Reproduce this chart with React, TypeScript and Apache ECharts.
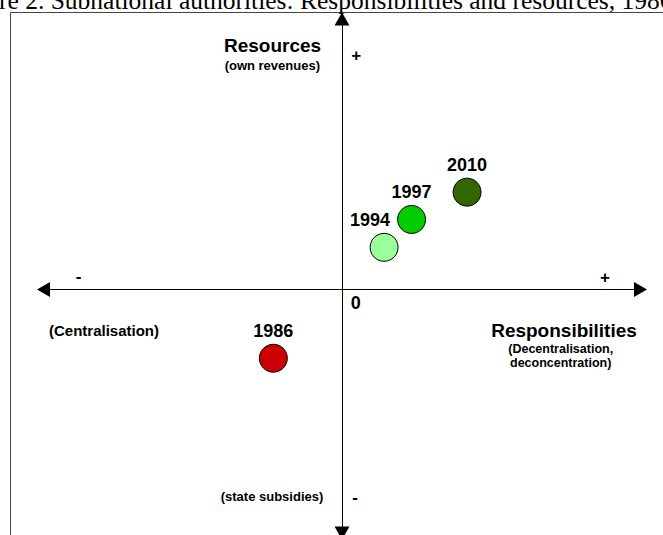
import React, { useEffect, useRef } from "react";
import * as echarts from "echarts";

const years = ["1986", "1994", "1997", "2010"];
const responsibilities = [-2.3, 1.41, 2.33, 4.19];
const resources = [-2.54, 1.56, 2.59, 3.6];
const pointColors = ["#CC0000", "#99FF99", "#00CC00", "#336600"];

const titleText = "re 2. Subnational authorities: Responsibilities and resources, 1986";

const SANS = "'Liberation Sans', Arial, Helvetica, sans-serif";

export default function App() {
  const ref = useRef<HTMLDivElement>(null);
  useEffect(() => {
    if (!ref.current) return;
    document.body.style.margin = "0";
    const chart = echarts.init(ref.current, null, { renderer: "svg" });

    const data = years.map((y, i) => ({
      name: y,
      value: [responsibilities[i], resources[i]],
      itemStyle: { color: pointColors[i] },
      label: y === "1994" ? { offset: [-14, 0] } : undefined,
    }));

    const txt = (text: string, x: number, y: number, size: number, align = "center", weight: any = "bold") => ({
      type: "text",
      x,
      y,
      silent: true,
      style: {
        text,
        fill: "#000",
        font: `${weight} ${size}px ${SANS}`,
        align,
        verticalAlign: "middle",
      },
    });

    chart.setOption({
      animation: false,
      backgroundColor: "#fff",
      grid: { left: 43.5, top: 19, width: 597, height: 514, containLabel: false },
      xAxis: {
        type: "value",
        min: -10,
        max: 10,
        axisLine: {
          show: true,
          onZero: true,
          symbol: ["triangle", "triangle"],
          symbolSize: [15, 13],
          lineStyle: { color: "#000", width: 1 },
        },
        axisTick: { show: false },
        axisLabel: { show: false },
        splitLine: { show: false },
      },
      yAxis: {
        type: "value",
        min: -9,
        max: 10,
        axisLine: {
          show: true,
          onZero: true,
          symbol: ["triangle", "triangle"],
          symbolSize: [15, 13],
          lineStyle: { color: "#000", width: 1 },
        },
        axisTick: { show: false },
        axisLabel: { show: false },
        splitLine: { show: false },
      },
      series: [
        {
          type: "scatter",
          symbol: "circle",
          symbolSize: 28,
          itemStyle: { borderColor: "#000", borderWidth: 1, opacity: 1 },
          label: {
            show: true,
            position: "top",
            distance: 4,
            formatter: (p: any) => p.name,
            color: "#000",
            opacity: 1,
            fontFamily: SANS,
            fontWeight: "bold",
            fontSize: 18,
          },
          emphasis: { disabled: true },
          data,
        },
      ],
      graphic: [
        {
          type: "rect",
          z: -10,
          silent: true,
          shape: { x: 10.5, y: 12.5, width: 900, height: 900 },
          style: { fill: "none", stroke: "#444", lineWidth: 1 },
        },
        {
          type: "text",
          x: -1,
          y: 0.5,
          silent: true,
          style: {
            text: titleText,
            fill: "#000",
            font: `normal 25.5px 'Liberation Serif', 'Times New Roman', serif`,
            align: "left",
            verticalAlign: "middle",
          },
        },
        txt("Resources", 272.5, 45.5, 19),
        txt("(own revenues)", 272.3, 65, 13),
        txt("+", 356.3, 55, 17),
        txt("-", 78.5, 276.5, 17),
        txt("+", 605, 277, 17),
        txt("0", 355.7, 303.3, 18),
        txt("(Centralisation)", 49, 330, 15, "left"),
        txt("Responsibilities", 564, 330, 19),
        txt("(Decentralisation,", 560.7, 349, 12.5),
        txt("deconcentration)", 560.7, 363, 12.5),
        txt("(state subsidies)", 272, 496.7, 13),
        txt("-", 355, 497, 17),
      ],
    });
    return () => chart.dispose();
  }, []);
  return (
    <div
      ref={ref}
      style={{ position: "fixed", left: 0, top: 0, width: 663, height: 535 }}
    />
  );
}
